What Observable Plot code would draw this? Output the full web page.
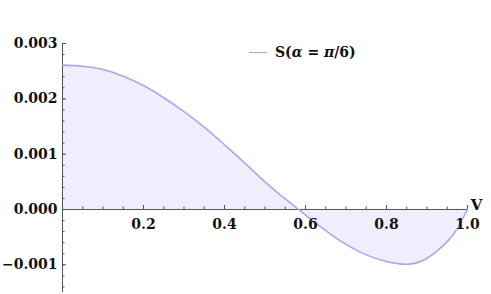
<!DOCTYPE html>
<html>
<head>
<meta charset="utf-8">
<script src="https://cdn.jsdelivr.net/npm/d3@7"></script>
<script src="https://cdn.jsdelivr.net/npm/@observablehq/plot@0.6"></script>
<style>
  html, body { margin: 0; padding: 0; background: #fff; }
  #wrap { position: relative; width: 491px; height: 294px; }
  #legend { position: absolute; left: 249px; top: 44px; display: flex; align-items: center;
            font: bold 14px "DejaVu Serif", serif; color: #111; white-space: nowrap; }
  #legend .sw { width: 18px; height: 0; border-top: 1.5px solid #a8a8f2; margin-right: 8px; }
</style>
</head>
<body>
<div id="wrap"><div id="chart"></div>
<div id="legend"><span class="sw"></span><span>S(<i>α</i> = <i>π</i>/6)</span></div>
</div>
<script>
// curve values
const V = [0, 0.05, 0.1, 0.15, 0.2, 0.25, 0.3, 0.35, 0.4, 0.45, 0.5, 0.55, 0.6, 0.65, 0.7, 0.75, 0.8, 0.85, 0.9, 0.95, 0.975, 1.0];
const S = [0.00261, 0.00259, 0.00253, 0.00241, 0.00224, 0.00202, 0.00177, 0.00149, 0.00117, 0.00084, 0.00050, 0.00019, -0.00010, -0.00038, -0.00063, -0.00082, -0.00094, -0.00099, -0.00088, -0.00058, -0.00034, 0];
const xMajor = [0.2, 0.4, 0.6, 0.8, 1.0];
const xLabels = ["0.2", "0.4", "0.6", "0.8", "1.0"];
const xMinor = d3.range(1, 21).map(i => i * 0.05);
const yMajor = [0.003, 0.002, 0.001, 0, -0.001];
const yLabels = ["0.003", "0.002", "0.001", "0.000", "\u22120.001"];
const yMinor = d3.range(-7, 16).map(i => i * 0.0002);
const xAxisLabel = "V";

const data = V.map((v, i) => ({V: v, S: S[i]}));
const font = "DejaVu Serif";
const axisColor = "#555";
const curve = "natural";

const chart = Plot.plot({
  width: 491, height: 294,
  marginLeft: 62, marginRight: 24, marginTop: 43, marginBottom: 2,
  x: {domain: [0, 1], axis: null},
  y: {domain: [-0.0015, 0.003], axis: null},
  style: {fontFamily: font, background: "white"},
  marks: [
    Plot.areaY(data, {x: "V", y: "S", fill: "#eeeefc", curve}),
    Plot.ruleY([0], {stroke: axisColor, strokeWidth: 1}),
    Plot.ruleX([0], {stroke: axisColor, strokeWidth: 1}),
    // x ticks (upward)
    Plot.ruleX(xMinor, {x: d => d, y1: 0, y2: 0, insetTop: -2.5, stroke: axisColor}),
    Plot.ruleX(xMajor, {x: d => d, y1: 0, y2: 0, insetTop: -4, stroke: axisColor}),
    // y ticks (rightward)
    Plot.ruleY(yMinor, {y: d => d, x1: 0, x2: 0, insetRight: -2.5, stroke: axisColor}),
    Plot.ruleY(yMajor, {y: d => d, x1: 0, x2: 0, insetRight: -4, stroke: axisColor}),
    Plot.line(data, {x: "V", y: "S", stroke: "#a8a8f2", strokeWidth: 1.6, curve}),
    Plot.text(xMajor, {x: d => d, y: 0, text: (d, i) => xLabels[i], dy: 15, fontSize: 14, fontWeight: "bold", fill: "#111"}),
    Plot.text(yMajor, {x: 0, y: d => d, text: (d, i) => yLabels[i], dx: -5, textAnchor: "end", fontSize: 14, fontWeight: "bold", fill: "#111"}),
    Plot.text([xAxisLabel], {x: 1, y: 0, text: d => d, dx: 9, dy: -4, fontSize: 15, fontWeight: "bold", fill: "#111"})
  ]
});
document.getElementById("chart").appendChild(chart);
</script>
</body>
</html>
